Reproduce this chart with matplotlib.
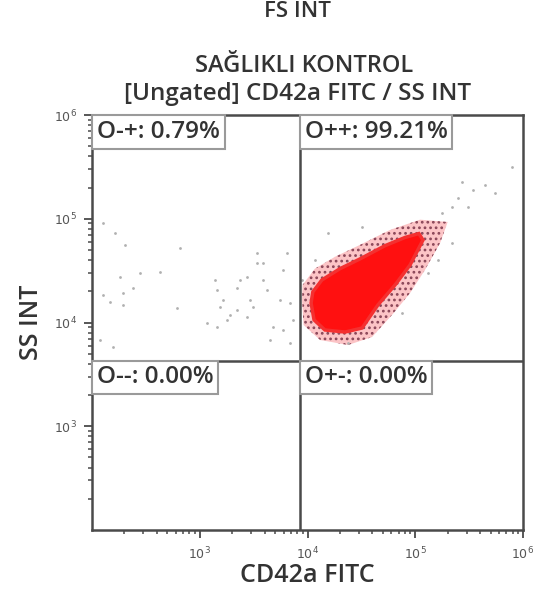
import matplotlib
matplotlib.use("Agg")
import matplotlib.pyplot as plt
from matplotlib.patches import Polygon
from matplotlib.ticker import LogLocator, FixedLocator, NullFormatter
import numpy as np

plt.rcParams['font.family'] = ['Open Sans', 'DejaVu Sans']
plt.rcParams['hatch.linewidth'] = 1.2

# ---------------- data ----------------
title_top = "FS INT"
title_main = "SAĞLIKLI KONTROL"
title_sub = "[Ungated] CD42a FITC / SS INT"
x_label = "CD42a FITC"
y_label = "SS INT"

x_limits = [1e2, 1e6]
y_limits = [1e2, 1e6]
x_major_ticks = [1e3, 1e4, 1e5, 1e6]
x_tick_labels = ["$10^{3}$", "$10^{4}$", "$10^{5}$", "$10^{6}$"]
y_major_ticks = [1e3, 1e4, 1e5, 1e6]
y_tick_labels = ["$10^{3}$", "$10^{4}$", "$10^{5}$", "$10^{6}$"]

gate_x = 8500     # CD42a FITC threshold
gate_y = 4300     # SS INT threshold

quadrant_names = ["O-+", "O++", "O--", "O+-"]
quadrant_pcts = [0.79, 99.21, 0.00, 0.00]

# sparse events, upper-left quadrant (CD42a-, SS+)
ul_x = [127, 163, 202, 656, 279, 428, 182, 240, 127, 194, 147, 194, 615, 119, 157,
        1390, 1450, 1640, 1540, 1910, 1790, 2220, 2370, 2750, 2220, 2930, 3120, 2750,
        3400, 3400, 3860, 4210, 3860, 6450, 5930, 4790, 5930, 4490, 6890, 1170, 1450,
        5560, 6890, 7330]
ul_y = [91000, 73000, 56000, 52000, 30000, 30700, 27500, 21500, 18400, 19200, 15800,
        14800, 13800, 6800, 5800,
        25700, 20600, 16500, 14100, 11800, 10600, 13200, 25700, 27500, 21500, 16500,
        14100, 11300, 46800, 37400, 25700, 20600, 37400, 46800, 32100, 9060, 8470,
        6780, 6340, 9890, 9060, 16500, 15400, 10600]

# sparse events, upper-right quadrant outside the dense population
ur_x = [791000, 444000, 272000, 309000, 550000, 177000, 219000, 131000, 163000,
        15500, 11700, 32100, 23800, 75300, 219000, 8890, 250000, 340000]
ur_y = [316000, 211000, 226000, 130000, 177000, 113000, 130000, 30000, 40000,
        73000, 40000, 83200, 6340, 12400, 58300, 25700, 160000, 190000]

# dense CD42a+ population: core outline and halo outline (data units)
core_x = [10800, 11500, 14500, 22300, 32100, 45100, 64900, 89400, 118000, 108000,
          80300, 52400, 30700, 20000, 13600, 11200]
core_y = [15400, 10600, 8470, 8090, 8850, 14800, 23000, 35800, 62400, 72000,
          66000, 55000, 41000, 33000, 25700, 19700]
halo_x = [8900, 9200, 13100, 23800, 39700, 60800, 89400, 123000, 170000, 200000,
          111000, 58300, 30700, 18000, 11700, 9000]
halo_y = [16500, 9460, 6780, 6070, 7240, 11800, 19200, 32100, 58300, 93100,
          98000, 78000, 56000, 43000, 33000, 23000]

# ---------------- figure ----------------
W, H = 538, 606
fig = plt.figure(figsize=(W / 100, H / 100), dpi=100)
ax = fig.add_axes([92 / W, 1 - 530 / H, (523 - 92) / W, (530 - 115) / H])
ax.set_xscale('log')
ax.set_yscale('log')
ax.set_xlim(x_limits)
ax.set_ylim(y_limits)

dark = '#333333'
for s in ax.spines.values():
    s.set_color('#4a4a4a')
    s.set_linewidth(1.8)

# halo + core
halo = Polygon(np.column_stack([halo_x, halo_y]), closed=True, facecolor='#fcc4c6',
               hatch='...', zorder=2)
halo.set_edgecolor('#8a4658')
halo.set_linewidth(0)
ax.add_patch(halo)
core = Polygon(np.column_stack([core_x, core_y]), closed=True, facecolor='#ff1010',
               edgecolor='#f43030', linewidth=2.5, zorder=3)
ax.add_patch(core)

ax.scatter(ul_x, ul_y, s=4, color='#b0b0b0', linewidths=0, zorder=2)
ax.scatter(ur_x, ur_y, s=4, color='#b0b0b0', linewidths=0, zorder=2)

# quadrant lines
ax.axvline(gate_x, color='#4a4a4a', lw=1.8, zorder=4)
ax.axhline(gate_y, color='#4a4a4a', lw=1.8, zorder=4)

# ticks
ax.xaxis.set_major_locator(FixedLocator(x_major_ticks))
ax.yaxis.set_major_locator(FixedLocator(y_major_ticks))
ax.set_xticklabels(x_tick_labels)
ax.set_yticklabels(y_tick_labels)
ax.xaxis.set_minor_locator(LogLocator(base=10, subs=np.arange(2, 10)))
ax.yaxis.set_minor_locator(LogLocator(base=10, subs=np.arange(2, 10)))
ax.xaxis.set_minor_formatter(NullFormatter())
ax.yaxis.set_minor_formatter(NullFormatter())
ax.tick_params(which='major', direction='out', length=6, width=1.3, color='#4a4a4a',
               labelsize=9, labelcolor='#555555', pad=5)
ax.tick_params(which='minor', direction='out', length=3, width=1.1, color='#4a4a4a')

# quadrant labels
box = dict(boxstyle='square,pad=0.2', facecolor='white', edgecolor='#9a9a9a', linewidth=1.5)
positions = [(x_limits[0], y_limits[1]), (gate_x, y_limits[1]),
             (x_limits[0], gate_y), (gate_x, gate_y)]
for (px, py), name, pct in zip(positions, quadrant_names, quadrant_pcts):
    ax.annotate(f"{name}: {pct:.2f}%", xy=(px, py), xytext=(3.5, -3.5),
                textcoords='offset points', ha='left', va='top', fontsize=17.5,
                color=dark, bbox=box, zorder=6, fontweight='semibold')

# titles and labels
fig.text(298 / W, 1 - 1 / H, title_top, ha='center', va='top', fontsize=16,
         color=dark, fontweight='semibold')
fig.text(304 / W, 1 - 66 / H, title_main, ha='center', va='center', fontsize=17,
         color=dark, fontweight='semibold')
fig.text(298 / W, 1 - 94 / H, title_sub, ha='center', va='center', fontsize=17.5,
         color=dark, fontweight='semibold')
fig.text(307 / W, 1 - 576 / H, x_label, ha='center', va='center', fontsize=18,
         color=dark, fontweight='semibold')
fig.text(32 / W, 1 - 322 / H, y_label, ha='center', va='center', fontsize=18,
         color=dark, fontweight='semibold', rotation=90)

fig.savefig('out.png', dpi=100)
